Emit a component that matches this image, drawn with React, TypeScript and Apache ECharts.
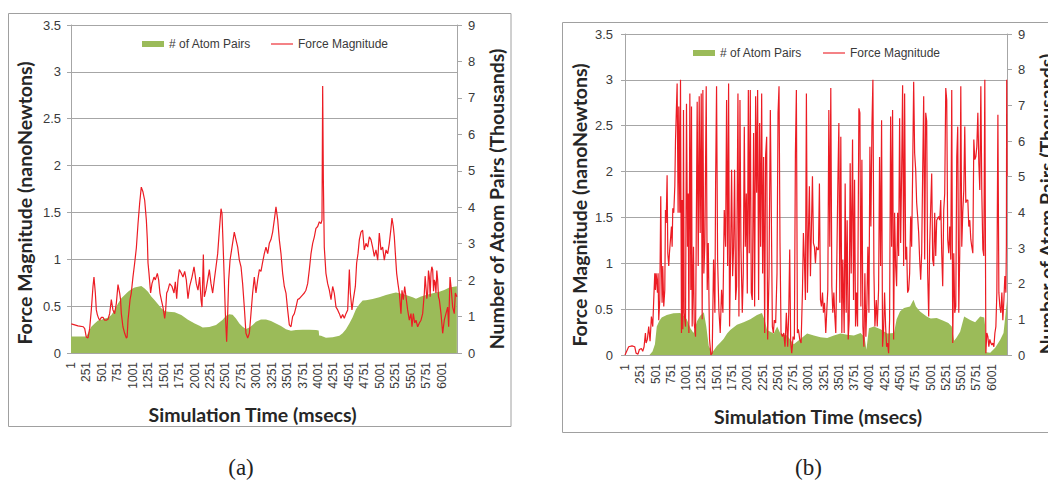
import React, { useEffect, useRef } from "react";
import * as echarts from "echarts";

// ---------- DATA ----------
// Chart (a): time (ms) , force (nN)
const forceA: number[][] = [
  [5, 0.31], [113, 0.29], [199, 0.28], [222, 0.26], [248, 0.17], [275, 0.16], [302, 0.26], [329, 0.46],
  [356, 0.71], [372, 0.81], [394, 0.64], [410, 0.46], [426, 0.41], [447, 0.37], [464, 0.35], [492, 0.38],
  [518, 0.38], [546, 0.35], [572, 0.35], [599, 0.36], [626, 0.42], [653, 0.57], [679, 0.46], [707, 0.42],
  [734, 0.53], [761, 0.73], [788, 0.64], [802, 0.57], [815, 0.42], [841, 0.28], [869, 0.21], [896, 0.16],
  [909, 0.17], [923, 0.35], [940, 0.46], [956, 0.57], [976, 0.64], [1003, 0.81], [1031, 0.96], [1058, 1.12],
  [1085, 1.38], [1112, 1.6], [1138, 1.77], [1165, 1.72], [1193, 1.63], [1220, 1.42], [1236, 1.21], [1247, 0.96],
  [1263, 0.85], [1289, 0.64], [1311, 0.74], [1344, 0.81], [1365, 0.78], [1398, 0.85], [1419, 0.78], [1440, 0.64],
  [1462, 0.57], [1489, 0.49], [1517, 0.37], [1533, 0.46], [1549, 0.64], [1570, 0.67], [1597, 0.74], [1635, 0.71],
  [1668, 0.64], [1689, 0.76], [1711, 0.58], [1732, 0.78], [1754, 0.89], [1786, 0.85], [1813, 0.81], [1841, 0.87],
  [1867, 0.78], [1894, 0.58], [1921, 0.71], [1959, 0.81], [1992, 0.92], [2029, 0.74], [2056, 0.67], [2083, 0.81],
  [2105, 0.57], [2121, 0.49], [2143, 1.05], [2159, 0.6], [2185, 0.67], [2213, 0.78], [2240, 0.89], [2267, 0.74],
  [2294, 0.64], [2320, 0.78], [2348, 0.92], [2375, 1.06], [2402, 1.31], [2429, 1.54], [2445, 1.49], [2456, 1.28],
  [2482, 0.78], [2499, 0.42], [2520, 0.12], [2537, 0.42], [2553, 0.78], [2575, 0.99], [2607, 1.13], [2644, 1.29],
  [2671, 1.21], [2699, 1.13], [2726, 0.99], [2753, 0.92], [2779, 0.74], [2806, 0.49], [2833, 0.21], [2861, 0.16],
  [2888, 0.21], [2914, 0.42], [2941, 0.64], [2968, 0.81], [2995, 0.64], [3023, 0.78], [3050, 0.89], [3076, 0.87],
  [3103, 0.97], [3130, 1.06], [3157, 1.13], [3185, 1.06], [3211, 1.17], [3238, 1.21], [3265, 1.29], [3292, 1.42],
  [3319, 1.56], [3347, 1.42], [3373, 1.21], [3400, 1.06], [3427, 0.85], [3454, 0.71], [3481, 0.64], [3508, 0.46],
  [3535, 0.3], [3562, 0.28], [3589, 0.39], [3616, 0.42], [3643, 0.49], [3670, 0.57], [3697, 0.58], [3751, 0.62],
  [3778, 0.64], [3804, 0.67], [3832, 0.74], [3859, 0.89], [3886, 1.06], [3913, 1.17], [3940, 1.24], [3966, 1.33],
  [3994, 1.35], [4021, 1.4], [4048, 1.38], [4064, 1.42], [4075, 2.85], [4086, 1.85], [4101, 1.13], [4128, 0.85],
  [4156, 0.74], [4183, 0.67], [4210, 0.57], [4237, 0.71], [4263, 0.64], [4291, 0.49], [4318, 0.46], [4345, 0.42],
  [4372, 0.37], [4398, 0.41], [4425, 0.37], [4452, 0.42], [4480, 0.46], [4507, 0.89], [4523, 0.64], [4549, 0.46],
  [4571, 0.57], [4604, 0.71], [4625, 0.96], [4647, 1.06], [4669, 1.21], [4695, 1.29], [4722, 1.31], [4749, 1.1],
  [4776, 1.17], [4804, 1.13], [4831, 1.24], [4857, 1.21], [4884, 1.13], [4911, 1.03], [4938, 1.1], [4966, 0.99],
  [4992, 1.28], [5019, 1.1], [5046, 1.13], [5073, 0.99], [5100, 1.1], [5128, 1.06], [5154, 1.17], [5181, 1.33],
  [5197, 1.44], [5219, 1.35], [5235, 1.24], [5252, 1.06], [5273, 0.85], [5294, 0.74], [5316, 0.64], [5343, 0.42],
  [5359, 0.67], [5381, 0.57], [5403, 0.71], [5424, 0.6], [5451, 0.46], [5478, 0.35], [5505, 0.42], [5521, 0.28],
  [5543, 0.42], [5565, 0.32], [5586, 0.35], [5613, 0.28], [5640, 0.32], [5667, 0.35], [5694, 0.42], [5721, 0.64],
  [5734, 0.82], [5747, 0.71], [5761, 0.58], [5775, 0.64], [5788, 0.88], [5802, 0.81], [5815, 0.6], [5829, 0.85],
  [5842, 0.92], [5856, 0.89], [5870, 0.66], [5883, 0.78], [5896, 0.75], [5909, 0.64], [5923, 0.88], [5937, 0.78],
  [5950, 0.6], [5964, 0.57], [5991, 0.42], [6018, 0.21], [6044, 0.35], [6071, 0.42], [6099, 0.49], [6115, 0.28],
  [6137, 0.81], [6153, 0.71], [6180, 0.49], [6206, 0.42], [6223, 0.64], [6248, 0.6],
];

// Chart (a): time (ms), atom pairs (thousands)
const pairsA: number[][] = [
  [0, 0.45], [248, 0.45], [275, 0.54], [329, 0.72], [383, 0.81], [437, 0.89], [491, 0.91], [545, 0.95],
  [599, 0.97], [653, 1.04], [707, 1.18], [761, 1.36], [815, 1.5], [869, 1.59], [923, 1.68], [976, 1.75],
  [1031, 1.8], [1085, 1.82], [1138, 1.84], [1193, 1.77], [1247, 1.68], [1300, 1.55], [1355, 1.45], [1409, 1.34],
  [1462, 1.23], [1517, 1.15], [1570, 1.13], [1679, 1.12], [1786, 1.04], [1894, 0.91], [2003, 0.81], [2089, 0.74],
  [2132, 0.7], [2240, 0.71], [2348, 0.77], [2456, 0.91], [2510, 1.02], [2564, 1.06], [2617, 1.05], [2671, 0.95],
  [2726, 0.81], [2779, 0.72], [2833, 0.66], [2888, 0.7], [2941, 0.77], [2995, 0.86], [3076, 0.92], [3157, 0.92],
  [3238, 0.88], [3319, 0.81], [3400, 0.74], [3481, 0.65], [3562, 0.61], [3643, 0.63], [3751, 0.64], [3859, 0.64],
  [3966, 0.63], [4010, 0.62], [4018, 0.48], [4048, 0.47], [4128, 0.42], [4237, 0.43], [4345, 0.47], [4398, 0.54],
  [4452, 0.65], [4507, 0.81], [4560, 0.98], [4614, 1.2], [4669, 1.34], [4722, 1.44], [4776, 1.45], [4884, 1.48],
  [4992, 1.53], [5100, 1.59], [5208, 1.64], [5262, 1.66], [5316, 1.64], [5424, 1.59], [5532, 1.53], [5586, 1.49],
  [5667, 1.55], [5747, 1.59], [5856, 1.64], [5964, 1.68], [6044, 1.73], [6126, 1.8], [6248, 1.83],
];

// Chart (b): time (ms), force (nN)
const forceB: number[][] = [
  [0, 0], [6, 0], [60, 0.09], [115, 0.1], [159, 0.09], [181, 0.02], [213, 0.01], [235, 0.06], [268, 0.07],
  [290, 0.04], [312, 0.09], [334, 0.24], [345, 0.13], [366, 0.17], [388, 0.31], [410, 0.15], [432, 0.42],
  [454, 0.31], [470, 0.6], [487, 0.89], [498, 0.71], [509, 0.89], [520, 0.81], [531, 0.68], [541, 0.89],
  [552, 0.38], [569, 0.6], [585, 1.73], [596, 0.97], [607, 0.57], [618, 0.97], [634, 0.53], [651, 0.71],
  [662, 1.58], [673, 1.44], [689, 1.96], [700, 1.11], [716, 0.97], [727, 1.11], [744, 1.26], [760, 1.4],
  [771, 1.18], [782, 1.6], [798, 1.55], [815, 1.84], [826, 2.33], [842, 2.71], [853, 2.96], [869, 1.55],
  [880, 2.71], [897, 1.55], [908, 3.0], [924, 0.24], [935, 1.69], [946, 0.28], [957, 2.67], [968, 0.46],
  [990, 0.31], [1006, 2.74], [1023, 1.18], [1034, 1.76], [1045, 0.24], [1061, 2.85], [1077, 0.71], [1088, 2.71],
  [1099, 0.31], [1121, 1.18], [1132, 0.35], [1154, 0.2], [1181, 2.76], [1198, 0.97], [1214, 2.82], [1230, 1.33],
  [1247, 2.85], [1263, 0.39], [1274, 2.89], [1290, 0.89], [1307, 1.22], [1329, 2.93], [1345, 0.71], [1362, 1.22],
  [1383, 0.17], [1405, 0], [1427, 0.02], [1449, 1.04], [1471, 0.46], [1482, 1.84], [1498, 2.93], [1515, 1.04],
  [1536, 0.49], [1558, 0.24], [1580, 0.71], [1602, 0.46], [1624, 1.58], [1646, 1.18], [1662, 2.78], [1679, 0.97],
  [1695, 2.96], [1711, 0.31], [1728, 1.11], [1744, 2.02], [1761, 0.86], [1777, 1.18], [1793, 2.02], [1810, 0.6],
  [1826, 0.75], [1848, 2.85], [1864, 0.42], [1881, 2.78], [1897, 1.18], [1919, 0.46], [1935, 0.89], [1952, 2.49],
  [1968, 1.18], [1985, 1.76], [2001, 0.67], [2018, 2.89], [2033, 1.11], [2050, 2.89], [2066, 0.68], [2083, 0.6],
  [2104, 2.42], [2121, 0.53], [2137, 2.82], [2154, 1.77], [2170, 2.89], [2186, 0.6], [2203, 2.53], [2219, 1.18],
  [2236, 2.85], [2252, 0.89], [2268, 2.16], [2285, 0.24], [2301, 2.18], [2318, 2.38], [2334, 0.17], [2356, 0.86],
  [2378, 2.67], [2394, 1.55], [2411, 0.31], [2427, 0.24], [2443, 0.38], [2465, 0.35], [2487, 0.89], [2504, 2.64],
  [2520, 2.93], [2536, 1.22], [2553, 0.24], [2575, 0.2], [2597, 0.24], [2618, 0.09], [2640, 0.46], [2662, 0.09],
  [2679, 0.46], [2695, 1.15], [2711, 0.13], [2728, 0.02], [2750, 0.2], [2771, 0.17], [2788, 2.2], [2804, 2.89],
  [2821, 0.24], [2837, 0.28], [2859, 0.17], [2881, 0.13], [2903, 0.68], [2919, 1.33], [2935, 1.04], [2952, 0.6],
  [2968, 2.85], [2985, 0.68], [3001, 1.33], [3017, 1.84], [3034, 0.86], [3050, 1.37], [3067, 1.95], [3083, 1.22],
  [3099, 1.18], [3116, 1.0], [3132, 1.18], [3149, 1.15], [3165, 1.15], [3181, 1.87], [3198, 0.6], [3214, 0.53],
  [3231, 0.68], [3247, 0.46], [3264, 0.57], [3285, 0.24], [3302, 0.49], [3318, 0.71], [3335, 2.67], [3351, 1.18],
  [3367, 2.91], [3384, 0.75], [3400, 0.46], [3417, 0.68], [3433, 0.42], [3449, 0.24], [3466, 1.04], [3482, 1.84],
  [3499, 2.53], [3515, 0.57], [3531, 2.38], [3548, 0.24], [3564, 1.04], [3586, 0.24], [3602, 1.87], [3619, 0.46],
  [3635, 1.47], [3652, 0.17], [3668, 0.38], [3684, 2.09], [3701, 0.89], [3723, 2.35], [3739, 0.6], [3756, 1.91],
  [3772, 0.31], [3788, 0.68], [3805, 0.31], [3827, 2.69], [3843, 2.64], [3859, 0.53], [3876, 2.13], [3892, 0.31],
  [3909, 0.09], [3925, 0.89], [3941, 0.2], [3958, 0.57], [3974, 1.18], [3991, 0.46], [4007, 2.27], [4023, 1.4],
  [4040, 2.49], [4056, 3.0], [4073, 0.89], [4089, 0.31], [4111, 0.6], [4127, 0.31], [4149, 0.71], [4165, 2.16],
  [4182, 0.97], [4198, 2.56], [4214, 0.09], [4231, 0.28], [4247, 0.68], [4264, 0.31], [4280, 0.09], [4296, 0.13],
  [4313, 0.02], [4329, 0.38], [4346, 2.6], [4362, 1.18], [4378, 2.67], [4395, 0.17], [4411, 1.55], [4428, 0.97],
  [4444, 0.75], [4460, 1.55], [4477, 1.08], [4493, 2.58], [4510, 1.22], [4526, 1.98], [4542, 2.94], [4559, 0.97],
  [4575, 2.85], [4592, 1.04], [4608, 1.18], [4624, 0.68], [4641, 0.71], [4657, 0.89], [4674, 1.51], [4690, 1.18],
  [4706, 1.98], [4723, 2.98], [4739, 2.2], [4756, 2.02], [4772, 1.66], [4788, 1.51], [4805, 1.33], [4821, 1.04],
  [4838, 0.82], [4854, 1.11], [4870, 1.98], [4887, 2.82], [4903, 1.04], [4920, 2.64], [4936, 2.55], [4952, 0.89],
  [4969, 0.42], [4985, 1.18], [5002, 1.62], [5018, 1.98], [5034, 1.04], [5051, 0.97], [5067, 1.55], [5084, 1.08],
  [5100, 1.47], [5116, 1.49], [5133, 1.51], [5149, 1.47], [5166, 1.69], [5182, 1.11], [5198, 0.75], [5215, 1.58],
  [5231, 1.76], [5248, 2.91], [5264, 2.78], [5280, 1.26], [5297, 1.11], [5313, 1.4], [5330, 1.04], [5346, 2.89],
  [5362, 0.13], [5379, 1.11], [5395, 0.46], [5412, 0.53], [5428, 2.16], [5444, 2.49], [5461, 0.46], [5477, 1.11],
  [5494, 2.93], [5510, 1.18], [5526, 1.55], [5543, 1.8], [5559, 2.49], [5576, 1.66], [5592, 1.69], [5609, 1.69],
  [5625, 1.4], [5641, 1.47], [5658, 1.26], [5674, 1.18], [5691, 1.11], [5707, 2.35], [5723, 2.13], [5740, 2.16],
  [5756, 2.27], [5773, 2.64], [5789, 2.09], [5805, 1.8], [5822, 2.93], [5838, 1.76], [5855, 1.15], [5871, 1.08],
  [5887, 3.0], [5904, 0.02], [5920, 0.24], [5937, 0.2], [5953, 0.09], [5969, 0.17], [5986, 0.13], [6002, 0.11],
  [6018, 0.13], [6035, 0.09], [6052, 0.24], [6068, 0.31], [6084, 0.68], [6101, 2.62], [6117, 0.68], [6133, 0.53],
  [6150, 0.46], [6166, 0.68], [6182, 0.38], [6199, 0.6], [6215, 0.86], [6232, 0.68], [6240, 1.2], [6245, 3.0],
  [6250, 1.95],
];

// Chart (b): time (ms), atom pairs (thousands)
const pairsB: number[][] = [
  [0, 0], [400, 0], [450, 0.1], [490, 0.3], [520, 0.8], [560, 0.95], [600, 1.05], [683, 1.12], [793, 1.17],
  [902, 1.18], [960, 1.1], [1011, 1.0], [1070, 0.75], [1121, 0.62], [1180, 0.95], [1230, 1.1], [1290, 1.2],
  [1330, 0.8], [1370, 0.25], [1422, 0.06], [1460, 0.15], [1503, 0.25], [1560, 0.35], [1613, 0.45], [1670, 0.6],
  [1722, 0.7], [1832, 0.85], [1941, 0.92], [2050, 1.0], [2160, 1.12], [2241, 1.18], [2290, 0.95], [2324, 0.7],
  [2433, 0.6], [2490, 0.8], [2542, 0.6], [2652, 0.55], [2761, 0.3], [2870, 0.45], [2980, 0.6], [3089, 0.55],
  [3198, 0.5], [3308, 0.48], [3417, 0.55], [3526, 0.6], [3635, 0.57], [3745, 0.55], [3854, 0.62], [3920, 0.5],
  [3950, 0.15], [3991, 0.75], [4073, 0.8], [4182, 0.72], [4292, 0.6], [4401, 0.62], [4444, 1.0], [4499, 1.22],
  [4565, 1.32], [4663, 1.36], [4720, 1.55], [4760, 1.36], [4827, 1.22], [4936, 1.08], [5002, 1.02], [5100, 1.04],
  [5209, 0.96], [5291, 0.9], [5346, 0.8], [5385, 0.4], [5428, 0.5], [5483, 0.65], [5549, 1.08], [5647, 0.98],
  [5729, 0.92], [5811, 1.08], [5877, 1.05], [5893, 0.8], [5910, 0.08], [5975, 0.06], [6057, 0.2], [6139, 0.43],
  [6193, 0.62], [6248, 1.5], [6250, 1.6],
];

const SERIES_PAIRS = "# of Atom Pairs";
const SERIES_FORCE = "Force Magnitude";
const X_TITLE = "Simulation Time (msecs)";
const Y_LEFT_TITLE = "Force Magnitude (nanoNewtons)";
const Y_RIGHT_TITLE = "Number of Atom Pairs (Thousands)";

// ---------- STYLE ----------
const GREEN = "#9bbb59";
const RED = "#ec1c24";
const GRID_COLOR = "#a6a6a6";
const TICK_COLOR = "#3a3a3a";
const TITLE_COLOR = "#262626";
const SANS = "'Liberation Sans', Arial, sans-serif";
const TITLE_FONT = "bold 19.5px Lato, 'Open Sans', sans-serif";
const LINE_ICON = "path://M0,0H40V2H0Z";

function xAxis(gridIndex: number) {
  return {
    type: "value",
    gridIndex,
    min: 0,
    max: 6250,
    interval: 250,
    axisLine: { show: true, lineStyle: { color: GRID_COLOR } },
    axisTick: { show: false },
    splitLine: { show: false },
    axisLabel: {
      rotate: 90,
      margin: 9,
      fontSize: 12,
      fontFamily: SANS,
      color: TICK_COLOR,
      formatter: (v: number) => (v % 250 === 0 && v <= 6000 ? String(v + 1) : ""),
    },
  };
}

function yLeft(gridIndex: number, margin: number) {
  return {
    type: "value",
    gridIndex,
    position: "left",
    min: 0,
    max: 3.5,
    interval: 0.5,
    axisLine: { show: true, lineStyle: { color: GRID_COLOR } },
    axisTick: { show: true, length: 4, lineStyle: { color: GRID_COLOR } },
    splitLine: { show: true, lineStyle: { color: GRID_COLOR, width: 1 } },
    axisLabel: { margin, fontSize: 13, fontFamily: SANS, color: TICK_COLOR },
  };
}

function yRight(gridIndex: number) {
  return {
    type: "value",
    gridIndex,
    position: "right",
    min: 0,
    max: 9,
    interval: 1,
    axisLine: { show: true, lineStyle: { color: GRID_COLOR } },
    axisTick: { show: true, length: 5, lineStyle: { color: GRID_COLOR } },
    splitLine: { show: false },
    axisLabel: { margin: 11, fontSize: 13, fontFamily: SANS, color: TICK_COLOR },
  };
}

function areaSeries(data: number[][], xi: number, yi: number) {
  return {
    name: SERIES_PAIRS,
    type: "line",
    xAxisIndex: xi,
    yAxisIndex: yi,
    data,
    symbol: "none",
    showSymbol: false,
    lineStyle: { width: 0, color: GREEN },
    itemStyle: { color: GREEN },
    areaStyle: { color: GREEN, opacity: 1 },
    z: 2,
  };
}

function lineSeries(data: number[][], xi: number, yi: number) {
  return {
    name: SERIES_FORCE,
    type: "line",
    xAxisIndex: xi,
    yAxisIndex: yi,
    data,
    symbol: "none",
    showSymbol: false,
    lineStyle: { width: 1.2, color: RED },
    itemStyle: { color: RED },
    z: 3,
  };
}

function legendItem(name: string, icon: string, h: number, left: number, top: number) {
  return {
    data: [{ name, icon }],
    left,
    top,
    padding: 0,
    itemWidth: 22,
    itemHeight: h,
    selectedMode: false,
    textStyle: { fontSize: 12, fontFamily: SANS, color: TICK_COLOR },
  };
}

function titleText(text: string, x: number, y: number, rotated: boolean) {
  return {
    type: "text",
    x,
    y,
    rotation: rotated ? Math.PI / 2 : 0,
    style: {
      text,
      font: TITLE_FONT,
      fill: TITLE_COLOR,
      align: "center",
      verticalAlign: "middle",
    },
  };
}

function caption(text: string, x: number) {
  return {
    type: "text",
    x,
    y: 467,
    style: {
      text,
      font: "23px 'Liberation Serif', serif",
      fill: "#222",
      align: "center",
      verticalAlign: "middle",
    },
  };
}

export default function App() {
  const ref = useRef<HTMLDivElement>(null);
  useEffect(() => {
    if (!ref.current) return;
    const chart = echarts.init(ref.current, undefined, { renderer: "svg" });
    chart.setOption({
      animation: false,
      backgroundColor: "#ffffff",
      grid: [
        { left: 71, top: 25, width: 386, height: 328 },
        { left: 625, top: 34, width: 382, height: 321 },
      ],
      xAxis: [xAxis(0), xAxis(1)],
      yAxis: [yLeft(0, 10), yRight(0), yLeft(1, 12), yRight(1)],
      legend: [
        legendItem(SERIES_PAIRS, "rect", 6, 142, 38),
        legendItem(SERIES_FORCE, LINE_ICON, 1.2, 271, 38),
        legendItem(SERIES_PAIRS, "rect", 6, 693, 47),
        legendItem(SERIES_FORCE, LINE_ICON, 1.2, 823, 47),
      ],
      series: [
        areaSeries(pairsA, 0, 1),
        lineSeries(forceA, 0, 0),
        areaSeries(pairsB, 1, 3),
        lineSeries(forceB, 1, 2),
      ],
      graphic: [
        {
          type: "rect",
          shape: { x: 8.5, y: 13.5, width: 502.5, height: 413 },
          style: { fill: "none", stroke: "#a0a0a0", lineWidth: 1 },
          silent: true,
        },
        {
          type: "rect",
          shape: { x: 562.5, y: 22.5, width: 520, height: 410 },
          style: { fill: "none", stroke: "#a0a0a0", lineWidth: 1 },
          silent: true,
        },
        titleText(X_TITLE, 252.5, 414, false),
        titleText(Y_LEFT_TITLE, 24.7, 203, true),
        titleText(Y_RIGHT_TITLE, 496.7, 199, true),
        titleText(X_TITLE, 818, 416.7, false),
        titleText(Y_LEFT_TITLE, 579.5, 205, true),
        titleText(Y_RIGHT_TITLE, 1046.5, 204, true),
        caption("(a)", 241),
        caption("(b)", 808.5),
      ],
    });
    return () => chart.dispose();
  }, []);
  return (
    <div
      ref={ref}
      style={{ position: "fixed", left: 0, top: 0, width: 1048, height: 482, background: "#fff" }}
    />
  );
}
